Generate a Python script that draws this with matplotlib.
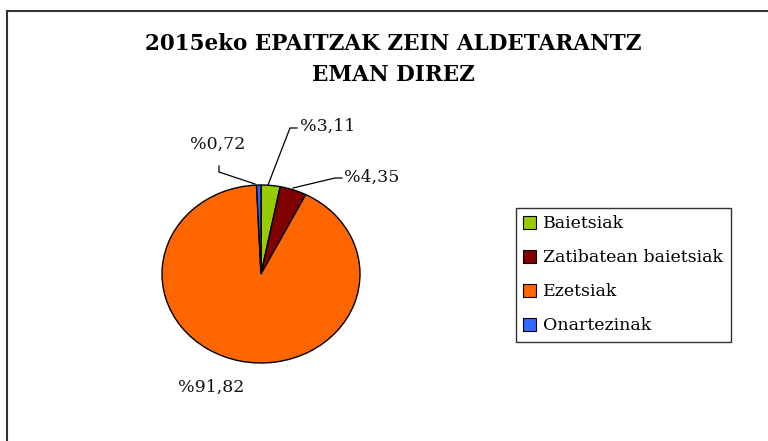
import matplotlib
matplotlib.use("Agg")
import matplotlib.pyplot as plt
from matplotlib.patches import Rectangle, Patch

categories = ["Baietsiak", "Zatibatean baietsiak", "Ezetsiak", "Onartezinak"]
values = [3.11, 4.35, 91.82, 0.72]
value_labels = ["%3,11", "%4,35", "%91,82", "%0,72"]
colors = ["#99CC00", "#800000", "#FF6600", "#3366FF"]
title_lines = ["2015eko EPAITZAK ZEIN ALDETARANTZ", "EMAN DIREZ"]

W, H = 768, 441
fig = plt.figure(figsize=(W / 100, H / 100), dpi=100)
fig.patch.set_facecolor("white")

# pie geometry in pixels
cx, cy, rx, ry = 261, 274, 99, 89
ax = fig.add_axes([0, 0, 1, 1])

def px(x, y):
    return ((x - cx) / rx, (cy - y) / ry)

ax.pie(values, colors=colors, startangle=90, counterclock=False, radius=1,
       wedgeprops=dict(edgecolor="black", linewidth=1.0), frame=False)
ax.set_aspect("auto")
ax.set_xlim(-cx / rx, (W - cx) / rx)
ax.set_ylim((cy - H) / ry, cy / ry)
ax.axis("off")

serif = "DejaVu Serif"
lfs = 12.5

# leader lines (pixel polylines)
leaders = {
    "%3,11": [(268, 185), (290, 128), (297, 128)],
    "%4,35": [(293, 188), (335, 178), (342, 178)],
    "%0,72": [(255, 184), (219, 172), (219, 166)],
}
for lab, pts in leaders.items():
    xs, ys = zip(*[px(*p) for p in pts])
    ax.plot(xs, ys, color="black", lw=0.9)

label_pos = {
    "%3,11": (300, 126, "left"),
    "%4,35": (344, 177, "left"),
    "%0,72": (218, 144, "center"),
    "%91,82": (211, 387, "center"),
}
for lab in value_labels:
    x, y, ha = label_pos[lab]
    ax.text(*px(x, y), lab, ha=ha, va="center", fontsize=lfs, family=serif,
            color="#111111")

for line, y in zip(title_lines, [44, 75]):
    fig.text(393 / W, 1 - y / H, line, ha="center", va="center",
             fontsize=15.5, fontweight="bold", family=serif)

# border
fig.add_artist(Rectangle((7 / W, -0.1), 1.2, 1 - 11 / H + 0.1,
                         transform=fig.transFigure, fill=False,
                         edgecolor="#333333", lw=1.5))

handles = [Patch(facecolor=c, edgecolor="black", lw=0.8) for c in colors]
leg = fig.legend(handles, categories, loc="upper left",
                 bbox_to_anchor=(516 / W, 1 - 208 / H),
                 prop=dict(family=serif, size=lfs),
                 frameon=True, fancybox=False, edgecolor="black",
                 handlelength=0.75, handleheight=0.75, handletextpad=0.4,
                 labelspacing=0.98, borderpad=0.42, borderaxespad=0)
leg.get_frame().set_linewidth(1.0)

fig.savefig("out.png", dpi=100)
